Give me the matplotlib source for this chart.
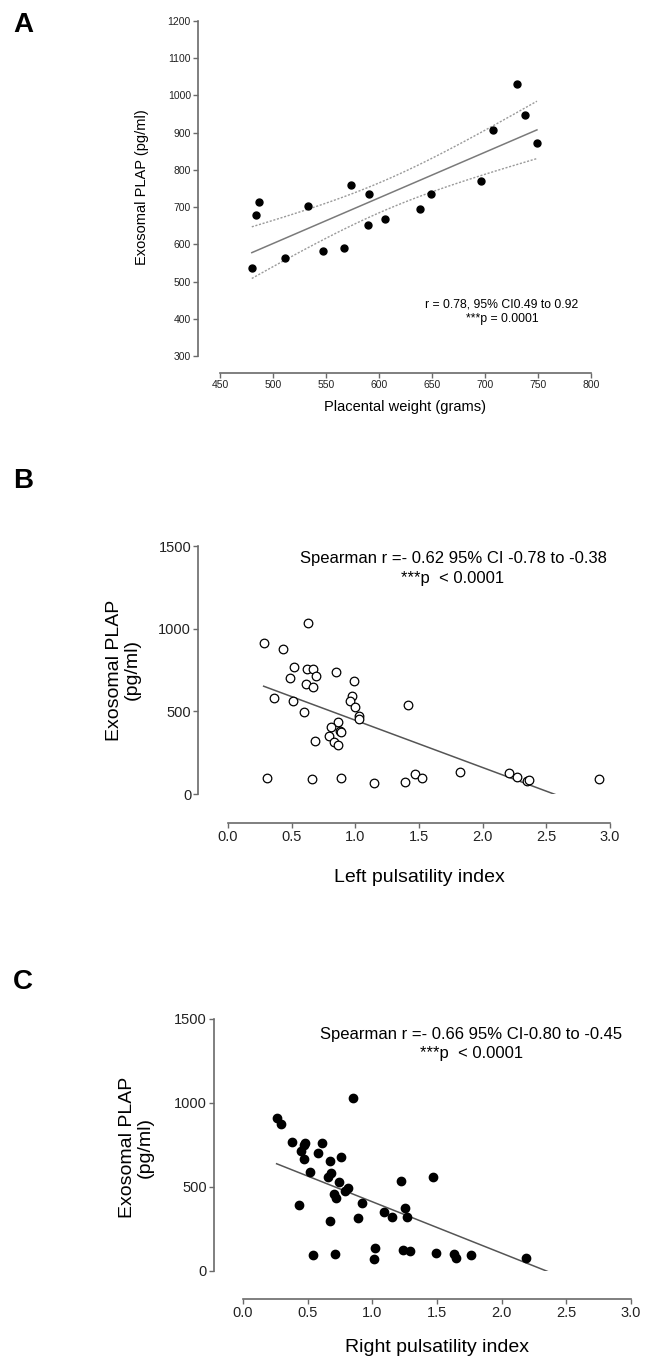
import numpy as np
import matplotlib
matplotlib.use("Agg")
import matplotlib.pyplot as plt

plt.rcParams['font.family'] = ['Liberation Sans', 'DejaVu Sans']

# panel A: placental weight vs exosomal PLAP
weight_g = [480, 484, 487, 511, 533, 547, 567, 574, 590, 591, 606, 639, 649, 696, 708, 730, 738, 749]
plap_a = [537, 680, 714, 563, 702, 581, 591, 760, 651, 734, 668, 695, 736, 771, 908, 1032, 947, 873]

# panel B: left pulsatility index
left_pi = [0.28, 0.43, 0.63, 0.52, 0.62, 0.67, 0.69, 0.49, 0.61, 0.67, 0.85, 0.99, 0.36, 0.51,
           0.60, 0.97, 0.96, 1.00, 1.03, 1.03, 1.41, 0.86, 0.81, 0.88, 0.79, 0.89, 0.83, 0.86,
           0.68, 0.31, 0.66, 0.89, 1.15, 1.39, 1.47, 1.52, 1.82, 2.21, 2.27, 2.35, 2.36, 2.91]
left_plap = [911, 875, 1034, 770, 758, 758, 712, 702, 667, 649, 738, 681, 583, 560,
             496, 593, 560, 528, 472, 456, 538, 433, 403, 383, 353, 375, 317, 296,
             321, 95, 93, 95, 69, 75, 121, 95, 131, 125, 101, 77, 85, 89]
line_b = (732, -286)   # intercept, slope

# panel C: right pulsatility index
right_pi = [0.26, 0.29, 0.38, 0.45, 0.47, 0.48, 0.47, 0.58, 0.61, 0.76, 0.67, 0.52, 0.66, 0.68,
            0.74, 0.79, 0.81, 0.70, 0.72, 0.43, 0.92, 0.67, 0.89, 1.09, 1.15, 1.22, 1.25, 1.27,
            1.47, 0.85, 0.54, 0.71, 1.02, 1.01, 1.24, 1.29, 1.49, 1.63, 1.65, 1.76, 2.19]
right_plap = [913, 873, 770, 716, 748, 764, 669, 702, 760, 680, 653, 591, 561, 581,
              530, 478, 492, 460, 433, 393, 403, 299, 317, 351, 321, 538, 377, 320,
              560, 1032, 97, 99, 135, 71, 125, 119, 107, 103, 79, 93, 78]
line_c = (718, -306)

W, H = 652, 1361
fig = plt.figure(figsize=(W / 100, H / 100), dpi=100)
AX_GREY = '#6a6a6a'


def add_panel(x0, x1, y0, y1):
    return fig.add_axes([x0 / W, 1 - y1 / H, (x1 - x0) / W, (y1 - y0) / H])


def style(ax, left_out, bottom_out, fs):
    for s in ['top', 'right']:
        ax.spines[s].set_visible(False)
    for s in ['left', 'bottom']:
        ax.spines[s].set_color(AX_GREY)
        ax.spines[s].set_linewidth(1.2)
    ax.spines['left'].set_position(('outward', left_out))
    ax.spines['bottom'].set_position(('outward', bottom_out))
    ax.tick_params(direction='out', length=3.5, width=1.0, color=AX_GREY,
                   labelsize=fs, pad=1.5, labelcolor='#222222')


def labels(ax, xl, yl, fs, xpos, ypos):
    ax.set_xlabel(xl, fontsize=fs)
    ax.set_ylabel(yl, fontsize=fs, linespacing=1.05)
    ax.xaxis.label.set_va('center')
    ax.yaxis.label.set_va('center')
    ax.xaxis.set_label_coords(*xpos)
    ax.yaxis.set_label_coords(*ypos)


# ---------- A ----------
axA = add_panel(220, 591, 21, 356)
xa = np.array(weight_g, float)
ya = np.array(plap_a, float)
b, a = np.polyfit(xa, ya, 1)
xx = np.linspace(xa.min(), xa.max(), 100)
n = len(xa)
resid = ya - (a + b * xa)
s = np.sqrt(np.sum(resid ** 2) / (n - 2))
sxx = np.sum((xa - xa.mean()) ** 2)
half = 2.120 * s * np.sqrt(1 / n + (xx - xa.mean()) ** 2 / sxx)
axA.plot(xx, a + b * xx, color='#7a7a7a', lw=1.1)
axA.plot(xx, a + b * xx + half, color='#9a9a9a', lw=1.0, ls=(0, (1.5, 1.2)))
axA.plot(xx, a + b * xx - half, color='#9a9a9a', lw=1.0, ls=(0, (1.5, 1.2)))
axA.plot(xa, ya, 'o', color='black', ms=5, zorder=3)
axA.set_xlim(450, 800)
axA.set_ylim(300, 1200)
axA.set_xticks(np.arange(450, 801, 50))
axA.set_yticks(np.arange(300, 1201, 100))
style(axA, 16, 12, 7.5)
labels(axA, 'Placental weight (grams)', 'Exosomal PLAP (pg/ml)', 10.5,
       (0.5, -0.152), (-0.21, 0.504))
axA.text(0.76, 0.155, 'r = 0.78, 95% CI0.49 to 0.92', transform=axA.transAxes,
         ha='center', va='center', fontsize=8.8)
axA.text(0.76, 0.11, '***p = 0.0001', transform=axA.transAxes,
         ha='center', va='center', fontsize=8.8)

# ---------- B ----------
axB = add_panel(228, 610, 546, 794)
xb = np.array(left_pi)
yb = np.array(left_plap)
xx = np.linspace(xb.min(), 3.0, 100)
axB.plot(xx, line_b[0] + line_b[1] * xx, color='#555555', lw=1.1)
axB.plot(xb, yb, 'o', mfc='white', mec='black', mew=0.9, ms=6.2, zorder=3, clip_on=False)
axB.set_xlim(0, 3)
axB.set_ylim(0, 1500)
axB.set_xticks(np.arange(0, 3.01, 0.5))
axB.set_xticklabels([f'{v:.1f}' for v in np.arange(0, 3.01, 0.5)])
axB.set_yticks([0, 500, 1000, 1500])
style(axB, 21.5, 21, 10.5)
labels(axB, 'Left pulsatility index', 'Exosomal PLAP\n(pg/ml)', 14,
       (0.5, -0.335), (-0.275, 0.5))
axB.text(0.589, 0.948, 'Spearman r =- 0.62 95% CI -0.78 to -0.38', transform=axB.transAxes,
         ha='center', va='center', fontsize=12)
axB.text(0.589, 0.867, '***p  < 0.0001', transform=axB.transAxes,
         ha='center', va='center', fontsize=12)

# ---------- C ----------
axC = add_panel(243, 631, 1019, 1271)
xc = np.array(right_pi)
yc = np.array(right_plap)
xx = np.linspace(xc.min(), 3.0, 100)
axC.plot(xx, line_c[0] + line_c[1] * xx, color='#555555', lw=1.1)
axC.plot(xc, yc, 'o', color='black', ms=6, zorder=3, clip_on=False)
axC.set_xlim(0, 3)
axC.set_ylim(0, 1500)
axC.set_xticks(np.arange(0, 3.01, 0.5))
axC.set_xticklabels([f'{v:.1f}' for v in np.arange(0, 3.01, 0.5)])
axC.set_yticks([0, 500, 1000, 1500])
style(axC, 21, 20, 10.5)
labels(axC, 'Right pulsatility index', 'Exosomal PLAP\n(pg/ml)', 14,
       (0.5, -0.302), (-0.274, 0.492))
axC.text(0.588, 0.937, 'Spearman r =- 0.66 95% CI-0.80 to -0.45', transform=axC.transAxes,
         ha='center', va='center', fontsize=12)
axC.text(0.588, 0.865, '***p  < 0.0001', transform=axC.transAxes,
         ha='center', va='center', fontsize=12)

# panel letters
for lab, ytop in [('A', 12), ('B', 468), ('C', 969)]:
    fig.text(13 / W, 1 - ytop / H, lab, fontsize=20, fontweight='bold', ha='left', va='top')

fig.savefig('out.png', dpi=100)
